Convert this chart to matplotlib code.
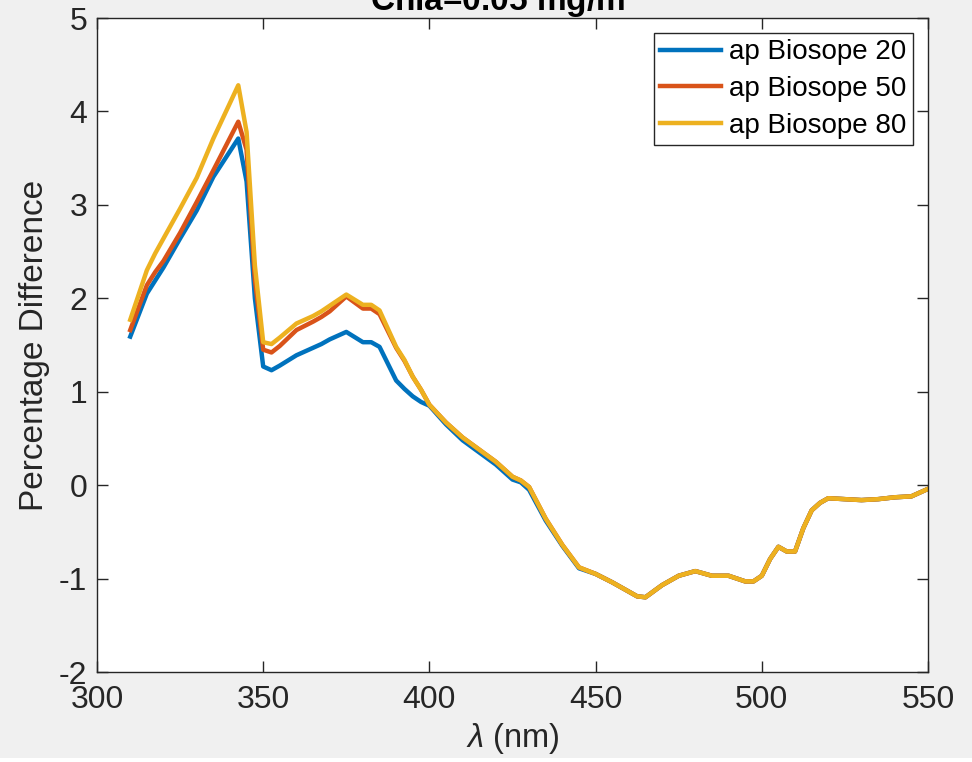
"""Percentage difference of ap (Biosope) spectra vs wavelength."""
import matplotlib.pyplot as plt
from matplotlib.patches import Rectangle

plt.rcParams.update({"font.family": ["Liberation Sans", "DejaVu Sans"],
                     "axes.unicode_minus": False,
                     "mathtext.fontset": "custom",
                     "mathtext.it": "Liberation Sans:italic",
                     "mathtext.rm": "Liberation Sans"})

# ---------------------------------------------------------------------------
# Data
# ---------------------------------------------------------------------------
wavelength = [310, 315, 317.5, 320, 325, 330, 335, 342.5, 345, 347.5,
              350, 352.5, 355, 360, 365, 367.5, 370, 375, 380, 382.5,
              385, 390, 392.5, 395, 397.5, 400, 405, 410, 415, 420,
              425, 427.5, 430, 435, 440, 445, 450, 455, 460, 462.5,
              465, 470, 475, 480, 485, 490, 495, 497.5, 500, 502.5,
              505, 507.5, 510, 512.5, 515, 517.5, 520, 525, 530, 535,
              540, 545, 547.5, 550]

ap_20 = [1.59, 2.05, 2.19, 2.33, 2.64, 2.94, 3.30, 3.71, 3.25, 2.00,
         1.27, 1.23, 1.28, 1.39, 1.47, 1.51, 1.56, 1.64, 1.53, 1.53,
         1.48, 1.12, 1.03, 0.95, 0.89, 0.85, 0.65, 0.48, 0.35, 0.22,
         0.06, 0.03, -0.05, -0.38, -0.65, -0.89, -0.95, -1.04, -1.14, -1.19,
         -1.20, -1.07, -0.97, -0.92, -0.97, -0.97, -1.03, -1.03, -0.97, -0.79,
         -0.66, -0.71, -0.71, -0.46, -0.27, -0.19, -0.14, -0.15, -0.16, -0.15,
         -0.13, -0.12, -0.08, -0.04]

ap_50 = [1.66, 2.14, 2.28, 2.40, 2.70, 3.03, 3.37, 3.89, 3.59, 2.20,
         1.45, 1.42, 1.49, 1.66, 1.75, 1.80, 1.86, 2.02, 1.89, 1.89,
         1.83, 1.47, 1.33, 1.16, 1.02, 0.86, 0.67, 0.51, 0.38, 0.25,
         0.09, 0.05, -0.02, -0.36, -0.64, -0.88, -0.95, -1.04, -1.14, -1.19,
         -1.20, -1.07, -0.97, -0.92, -0.97, -0.97, -1.03, -1.03, -0.97, -0.79,
         -0.66, -0.71, -0.71, -0.46, -0.27, -0.19, -0.14, -0.15, -0.16, -0.15,
         -0.13, -0.12, -0.08, -0.04]

ap_80 = [1.77, 2.30, 2.48, 2.64, 2.96, 3.29, 3.71, 4.28, 3.78, 2.35,
         1.53, 1.51, 1.58, 1.73, 1.81, 1.86, 1.92, 2.04, 1.93, 1.93,
         1.87, 1.48, 1.34, 1.16, 1.02, 0.86, 0.67, 0.51, 0.38, 0.25,
         0.09, 0.05, -0.02, -0.36, -0.64, -0.88, -0.95, -1.04, -1.14, -1.19,
         -1.20, -1.07, -0.97, -0.92, -0.97, -0.97, -1.03, -1.03, -0.97, -0.79,
         -0.66, -0.71, -0.71, -0.46, -0.27, -0.19, -0.14, -0.15, -0.16, -0.15,
         -0.13, -0.12, -0.08, -0.04]

series = [("ap Biosope 20", ap_20, "#0072BD"),
          ("ap Biosope 50", ap_50, "#D95319"),
          ("ap Biosope 80", ap_80, "#EDB120")]

# ---------------------------------------------------------------------------
# Figure
# ---------------------------------------------------------------------------
fig = plt.figure(figsize=(9.72, 7.62), dpi=100, facecolor="#f0f0f0")
ax = fig.add_axes([97 / 972, 90 / 762, 831 / 972, 654 / 762])
ax.set_facecolor("white")

for label, vals, col in series:
    ax.plot(wavelength, vals, color=col, lw=3.2, label=label,
            solid_joinstyle="round")

ax.set_xlim(300, 550)
ax.set_ylim(-2, 5)
ax.set_xticks([300, 350, 400, 450, 500, 550])
ax.set_yticks(range(-2, 6))

ax.tick_params(direction="in", length=8, width=1, colors="#262626",
               labelsize=23, top=True, right=True)
ax.tick_params(axis="x", pad=9)
ax.tick_params(axis="y", pad=7)
for sp in ax.spines.values():
    sp.set_color("#262626")
    sp.set_linewidth(1)

ax.set_xlabel(r"$\lambda$ (nm)", fontsize=23.5, color="#262626", labelpad=5)
ax.set_ylabel("Percentage Difference", fontsize=24, color="#262626",
              labelpad=6)

fig.text(505 / 972, 1 - 11 / 762, r"Chla=0.05 mg/m$^3$", ha="center",
         va="baseline", fontsize=24, fontweight="bold", color="black")

leg = ax.legend(loc="upper right", fontsize=20, fancybox=False,
                framealpha=1, edgecolor="#262626", handlelength=2.2,
                borderaxespad=0.55, labelspacing=0.38, handletextpad=0.3,
                borderpad=0.22)
leg.get_frame().set_linewidth(1)

# thin white strip at the very bottom of the screenshot
fig.patches.append(Rectangle((0, 0), 1, 4 / 762, transform=fig.transFigure,
                             facecolor="white", edgecolor="none", zorder=-1))

fig.savefig("out.png", dpi=100, facecolor=fig.get_facecolor())
plt.close(fig)
